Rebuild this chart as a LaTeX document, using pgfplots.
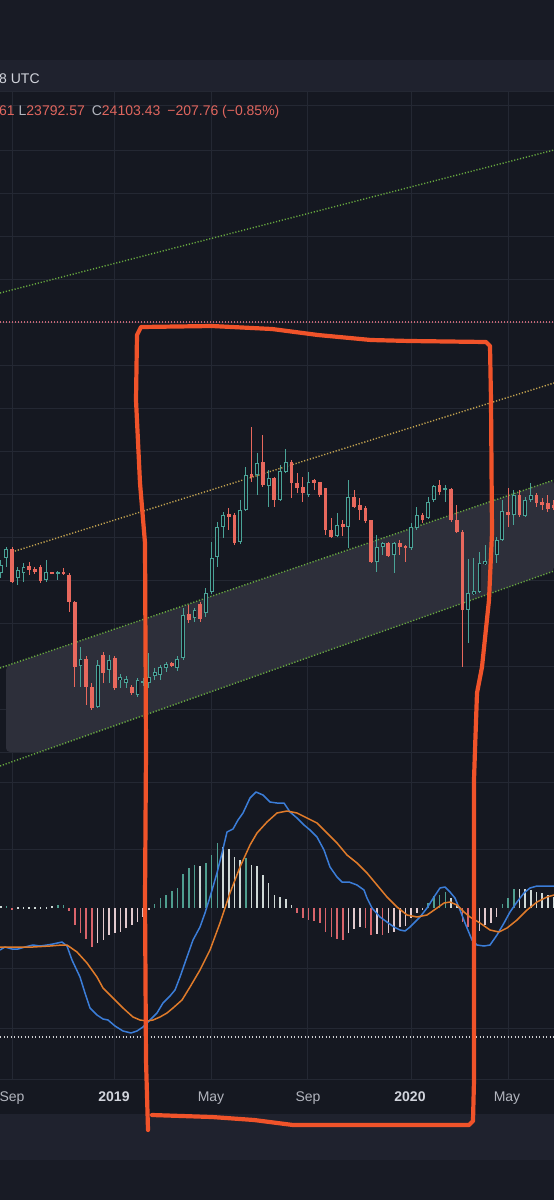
\documentclass[border=0pt]{standalone}
\usepackage{pgfplots}
\pgfplotsset{compat=1.18}
\usepackage{pgfplotstable}
\usepackage{fontspec}
\setmainfont{Liberation Sans}

\definecolor{bg}{HTML}{151821}
\definecolor{bgtop}{HTML}{181B25}
\definecolor{bgband}{HTML}{1F222E}
\definecolor{gridc}{HTML}{242833}
\definecolor{tealc}{HTML}{4AA397}
\definecolor{redc}{HTML}{E8685D}
\definecolor{htealc}{HTML}{4F9E8F}
\definecolor{hredc}{HTML}{D9646B}
\definecolor{hlightup}{HTML}{CFD8D6}
\definecolor{hlightdn}{HTML}{E2CACE}
\definecolor{bluec}{HTML}{3B7DD8}
\definecolor{orangec}{HTML}{E07B2A}
\definecolor{handred}{HTML}{F0532A}
\definecolor{greendot}{HTML}{67A83F}
\definecolor{yellowdot}{HTML}{C4A450}
\definecolor{pinkdot}{HTML}{C46676}
\definecolor{bandc}{HTML}{2D2F3A}
\definecolor{txtc}{HTML}{D1D4DC}
\definecolor{greyt}{HTML}{B2B5BE}
\definecolor{ohlcred}{HTML}{E0665E}

\pgfplotsset{
  ebar/.style={only marks, mark size=0pt, mark options={draw=none, fill=none},
    error bars/.cd, y dir=both, y explicit, error mark=none,
    error bar style={#1}},
  dotl/.style={#1, line width=1.4pt, dash pattern=on 1.2pt off 1.8pt},
}

% candles: x open high low close (pixel rows of the screenshot)
\pgfplotstableread{
x o h l c
0.7 573 560 578 565
6.4 558 547 567 549
17.8 578 567 585 570
23.5 573 563 582 567
46.3 580 560 582 572
57.7 574 571 580 572
80.5 666 647 687 659
97.6 707 660 708 665
109 670 655 683 660
120.4 680 674 688 677
126.1 683 676 688 679
137.5 695 678 697 680
143.2 683 678 686 681
148.9 683 653 688 677
154.6 676 668 680 672
160.3 675 665 680 667
166 668 662 672 664
177.4 668 656 671 659
183.1 658 608 660 615
194.5 618 608 622 610
205.9 613 588 617 593
211.6 592 542 594 558
217.3 557 522 567 527
223 527 512 538 515
240.1 542 500 544 510
245.8 510 467 511 475
257.2 475 453 495 463
268.6 486 470 507 478
280 500 465 501 471
285.7 472 449 473 462
308.5 495 472 497 482
337 536 513 537 525
348.4 527 480 548 497
376.9 562 535 572 547
382.6 547 542 555 543
394 555 542 573 543
411.1 548 523 550 527
416.8 528 507 530 515
428.2 518 497 519 502
433.9 500 485 502 486
445.3 490 485 502 488
468.1 610 559 643 593
473.8 594 558 595 591
479.5 592 552 593 563
485.2 564 545 565 561
490.9 560 545 566 553
496.6 555 537 563 540
502.3 540 500 541 511
513.7 515 490 525 495
525.1 516 497 517 500
530.8 500 483 502 495
}\tealC

\pgfplotstableread{
x o h l c
12.1 549 547 583 582
29.2 566 562 575 570
34.9 569 567 574 572
40.6 567 565 583 581
52 572.5 572 574 573.5
63.4 571.5 568 575 573.5
69.1 575 573 612 602
74.8 602 601 687 667
86.2 659 656 705 687
91.9 687 683 710 708
103.3 655 652 683 673
114.7 658 656 690 688
131.8 687 685 695 693
171.7 663 662 667 666
188.8 614 605 623 620
200.2 604 602 622 619
228.7 514 508 530 517
234.4 515 513 545 543
251.5 474 427 482 477
262.9 462 435 487 485
274.3 478 477 507 500
291.4 462 460 498 483
297.1 483 473 493 488
302.8 487 477 502 493
314.2 480 479 490 483
319.9 482 482 497 495
325.6 488 488 535 530
331.3 530 518 538 537
342.7 524 520 536 527
354.1 497 490 508 507
359.8 505 498 520 510
365.5 508 506 523 521
371.2 520 520 563 562
388.3 543 542 557 556
399.7 543 540 555 547
405.4 546 545 562 548
422.5 515 513 523 520
439.6 485 480 495 492
451 489 488 522 520
456.7 520 505 533 532
462.4 532 530 667 610
508 512 488 527 515
519.4 495 490 517 515
536.5 495 493 507 503
542.2 502 498 510 505
547.9 503 495 512 509
553.6 505 500 510 508
}\redC

% MACD histogram: x, bar end (zero line at 908)
\pgfplotstableread{
x v
6.4 906
57.7 905
63.4 905
154.6 904
160.3 898
166 895
171.7 891
177.4 888
183.1 874
188.8 868
194.5 865
205.9 863
211.6 855
217.3 843
245.8 858
428.2 903
433.9 896
439.6 895
445.3 892
502.3 904
508 898
513.7 889
}\histTeal
\pgfplotstableread{
x v
0.7 906
17.8 907
23.5 907
29.2 907
34.9 907
40.6 907
46.3 907
52 906
200.2 866
223 847
228.7 849
234.4 857
240.1 860
251.5 865
257.2 866
262.9 875
268.6 883
274.3 895
280 897
285.7 899
291.4 905
451 898
456.7 904
519.4 889
525.1 889
530.8 890
536.5 892
542.2 893
547.9 895
553.6 897
}\histLightUp
\pgfplotstableread{
x v
12.1 910
69.1 911
74.8 925
80.5 933
86.2 939
91.9 947
297.1 913
302.8 918
308.5 920
314.2 921
319.9 923
325.6 932
331.3 937
337 939
342.7 940
365.5 928
371.2 935
382.6 935
462.4 922
468.1 927
473.8 932
}\histRed
\pgfplotstableread{
x v
97.6 943
103.3 940
109 935
114.7 933
120.4 932
126.1 928
131.8 925
137.5 922
143.2 917
148.9 910
348.4 933
354.1 929
359.8 927
376.9 934
388.3 933
394 932
399.7 927
405.4 926
411.1 918
416.8 913
422.5 909
479.5 931
485.2 925
490.9 923
496.6 917
}\histLightDn

\begin{document}
\begin{tikzpicture}
\begin{axis}[
  width=554pt, height=1200pt, scale only axis,
  xmin=0, xmax=554, ymin=0, ymax=1200, y dir=reverse,
  axis lines=none, clip=true,
  axis background/.style={fill=bg},
  every axis plot/.append style={forget plot},
]
% panels
\fill[bgtop] (axis cs:0,0) rectangle (axis cs:554,60);
\fill[bgband] (axis cs:0,60) rectangle (axis cs:554,91);
\fill[bgband] (axis cs:0,1114) rectangle (axis cs:554,1160);
\fill[bgtop] (axis cs:0,1160) rectangle (axis cs:554,1200);
\draw[gridc, line width=0.8pt] (axis cs:0,91) -- (axis cs:554,91);
\draw[gridc, line width=0.8pt] (axis cs:0,1079) -- (axis cs:554,1079);
% grid
\foreach \gx in {12,114,211,307,411,508}{
  \edef\tmp{\noexpand\draw[gridc, line width=0.8pt] (axis cs:\gx,91) -- (axis cs:\gx,1079);}\tmp
}
\foreach \gy in {105,150,193,236,279,322,365,408,451,494,537,580,623,666,709,752,782,849,968,1028}{
  \edef\tmp{\noexpand\draw[gridc, line width=0.8pt] (axis cs:0,\gy) -- (axis cs:554,\gy);}\tmp
}

% channel band
\addplot[fill=bandc, draw=none, rounded corners=4pt] coordinates {(6,666) (554,480) (554,571) (40,752) (6,752)} -- cycle;
% dotted trend lines
\addplot[dotl=greendot] coordinates {(0,293) (554,150)};
\addplot[dotl=pinkdot] coordinates {(0,322) (554,322)};
\addplot[dotl=yellowdot] coordinates {(12,552) (554,383)};
\addplot[dotl=greendot] coordinates {(0,668) (554,480)};
\addplot[dotl=greendot] coordinates {(0,766) (554,571)};

% wicks
\addplot[ebar={color=tealc, line width=0.9pt}]
  table[x=x, y expr={(\thisrow{h}+\thisrow{l})/2}, y error expr={(\thisrow{l}-\thisrow{h})/2}] {\tealC};
\addplot[ebar={color=redc, line width=0.9pt}]
  table[x=x, y expr={(\thisrow{h}+\thisrow{l})/2}, y error expr={(\thisrow{l}-\thisrow{h})/2}] {\redC};
% bodies
\addplot[ebar={color=redc, line width=3.7pt}]
  table[x=x, y expr={(\thisrow{o}+\thisrow{c})/2}, y error expr={max((\thisrow{c}-\thisrow{o})/2,0.7)}] {\redC};
\addplot[ebar={color=tealc, line width=3.9pt}]
  table[x=x, y expr={(\thisrow{o}+\thisrow{c})/2}, y error expr={max((\thisrow{o}-\thisrow{c})/2,0.7)}] {\tealC};
\addplot[ebar={color=bg, line width=2.0pt}]
  table[x=x, y expr={(\thisrow{o}+\thisrow{c})/2}, y error expr={max((\thisrow{o}-\thisrow{c})/2-1,0)}] {\tealC};

% MACD histogram (zero at 908)
\addplot[ebar={color=htealc, line width=1.6pt}]
  table[x=x, y expr={(\thisrow{v}+908)/2}, y error expr={abs(\thisrow{v}-908)/2}] {\histTeal};
\addplot[ebar={color=hlightup, line width=1.6pt}]
  table[x=x, y expr={(\thisrow{v}+908)/2}, y error expr={abs(\thisrow{v}-908)/2}] {\histLightUp};
\addplot[ebar={color=hredc, line width=1.6pt}]
  table[x=x, y expr={(\thisrow{v}+908)/2}, y error expr={abs(\thisrow{v}-908)/2}] {\histRed};
\addplot[ebar={color=hlightdn, line width=1.6pt}]
  table[x=x, y expr={(\thisrow{v}+908)/2}, y error expr={abs(\thisrow{v}-908)/2}] {\histLightDn};

% white dotted level
\addplot[white!80!bg, line width=1.3pt, dash pattern=on 1.3pt off 2.2pt] coordinates {(0,1037) (554,1037)};

% MACD line
\addplot[bluec, line width=1.5pt, line join=round] coordinates {
(0,950)(5,947)(12,949)(18,949)(25,947)(33,945)(40,946)(47,945)(53,944)(62,942)(67,946)(72,960)(80,977)(85,993)(90,1008)(97,1015)(103,1019)(108,1020)(115,1026)(123,1031)(131,1033)(137,1031)(143,1027)(150,1020)(157,1013)(163,1003)(170,996)(175,990)(180,977)(187,957)(193,940)(200,927)(205,913)(210,897)(217,873)(222,853)(227,832)(233,829)(238,820)(243,813)(250,798)(256,792)(263,795)(270,802)(277,803)(284,803)(290,812)(297,818)(304,825)(310,830)(317,837)(324,850)(330,867)(337,877)(342,882)(349,882)(357,885)(364,890)(367,898)(372,908)(380,917)(387,922)(394,927)(400,930)(405,931)(410,927)(415,922)(420,917)(427,908)(434,897)(440,888)(445,887)(450,892)(455,898)(460,910)(465,923)(472,940)(477,945)(484,946)(490,945)(497,935)(504,923)(510,912)(517,902)(524,893)(530,888)(537,886)(544,886)(554,886)};
% signal line
\addplot[orangec, line width=1.5pt, line join=round] coordinates {
(0,947)(20,947)(33,947)(50,946)(62,945)(67,945)(77,952)(87,963)(97,977)(103,988)(113,998)(123,1008)(133,1017)(140,1020)(147,1021)(153,1020)(160,1017)(167,1013)(173,1008)(182,1000)(190,987)(200,970)(210,950)(220,923)(230,893)(240,867)(250,845)(257,833)(267,822)(277,813)(287,811)(297,813)(307,818)(317,823)(327,833)(337,843)(347,855)(357,863)(367,873)(377,885)(387,897)(397,907)(407,915)(417,917)(427,915)(437,908)(444,903)(450,902)(457,905)(464,912)(470,917)(480,923)(490,930)(499,932)(507,928)(517,920)(527,910)(537,902)(547,897)(554,895)};

% hand-drawn box
\addplot[handred, line width=4.2pt, line join=round, line cap=round] coordinates {
(148,1130)(146,1060)(145,900)(146,750)(145,543)(140,483)(136,400)(137,335)(141,327)(212,326)(272,329)(318,335)(371,340)(410,341)(486,342)(490,346)(491,400)(492,533)(489,600)(482,667)(477,693)(475,750)(474,780)(474,1080)(473,1121)(469,1125)(293,1125)(254,1120)(212,1117)(152,1115)};

% texts
\node[anchor=base west, inner sep=0, text=txtc] at (axis cs:-1,83) {\fontsize{14}{16}\selectfont 8 UTC};
\node[anchor=base west, inner sep=0] at (axis cs:-1,115) {\fontsize{14}{16}\selectfont\color{ohlcred}61 \color{greyt}L\color{ohlcred}23792.57\enspace\color{greyt}C\color{ohlcred}24103.43\enspace −207.76 (−0.85\%)};
\node[anchor=base, inner sep=0, text=greyt] at (axis cs:12,1101) {\fontsize{14}{16}\selectfont Sep};
\node[anchor=base, inner sep=0, text=txtc] at (axis cs:114,1101) {\fontsize{14}{16}\selectfont\bfseries 2019};
\node[anchor=base, inner sep=0, text=greyt] at (axis cs:211,1101) {\fontsize{14}{16}\selectfont May};
\node[anchor=base, inner sep=0, text=greyt] at (axis cs:308,1101) {\fontsize{14}{16}\selectfont Sep};
\node[anchor=base, inner sep=0, text=txtc] at (axis cs:410,1101) {\fontsize{14}{16}\selectfont\bfseries 2020};
\node[anchor=base, inner sep=0, text=greyt] at (axis cs:507,1101) {\fontsize{14}{16}\selectfont May};
\end{axis}
\pgfresetboundingbox
\path (current axis.south west) rectangle (current axis.north east);
\end{tikzpicture}
\end{document}
